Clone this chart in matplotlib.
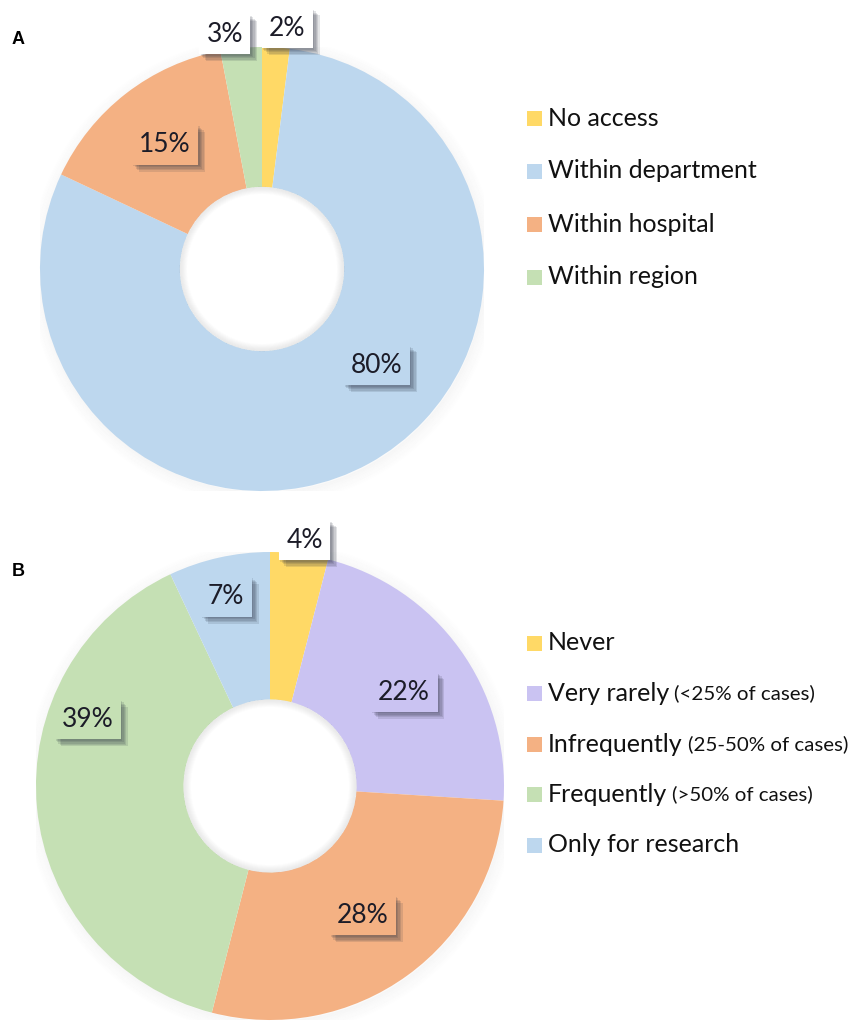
import matplotlib
matplotlib.use("Agg")
import matplotlib.pyplot as plt
import matplotlib.patheffects as pe
from matplotlib.patches import Rectangle, Wedge
import numpy as np

plt.rcParams['font.family'] = ['Lato', 'DejaVu Sans']

# 数据 A：影像数据访问范围
labels_a = ['No access', 'Within department', 'Within hospital', 'Within region']
values_a = [2, 80, 15, 3]
colors_a = ['#FFD966', '#BDD7EE', '#F4B183', '#C5E0B4']

# 数据 B：使用频率
labels_b = ['Never', 'Very rarely', 'Infrequently', 'Frequently', 'Only for research']
notes_b = ['', '(<25% of cases)', '(25-50% of cases)', '(>50% of cases)', '']
values_b = [4, 22, 28, 39, 7]
colors_b = ['#FFD966', '#CAC3F2', '#F4B183', '#C5E0B4', '#BDD7EE']

# 标签位置 (半径, 角度) 以及是否放在外侧
lab_pos_a = [(1.09, 84), (0.675, -40), (0.71, 128), (1.07, 99)]
lab_out_a = [True, False, False, True]
lab_pos_b = [(1.06, 82), (0.70, 35), (0.68, -54.5), (0.83, 160), (0.83, 103)]
lab_out_b = [True, False, False, False, False]

W, H = 857, 1024
HOLE = 0.37
TXT = '#1C1C28'


def px_axes(fig, cx, cy, r):
    # 用像素坐标（左上原点）放置坐标轴
    return fig.add_axes([(cx - r) / W, (H - cy - r) / H, 2 * r / W, 2 * r / H])


def draw_donut(ax, values, colors, lab_pos, lab_out):
    # 外侧柔和阴影
    for i in range(10):
        ax.add_patch(Wedge((0.006, -0.01), 1.0 + 0.006 * i, 0, 360, width=0.012,
                           facecolor='#888888', alpha=0.035 * (1 - i / 10), lw=0, zorder=0))
    wedges, _ = ax.pie(values, colors=colors, startangle=90, counterclock=False,
                       radius=1.0, wedgeprops=dict(width=1 - HOLE, linewidth=0))
    ax.set_xlim(-1, 1)
    ax.set_ylim(-1, 1)
    # 内孔阴影
    for i in range(8):
        ax.add_patch(Wedge((0, 0), HOLE, 0, 360, width=0.004 * (i + 1),
                           facecolor='#999999', alpha=0.025, lw=0, zorder=3))
    shadow = [pe.SimplePatchShadow(offset=(k, -k), shadow_rgbFace='#2a3040', alpha=0.13)
              for k in (1, 2, 3, 4, 5)]
    for v, c, (r, ang), out in zip(values, colors, lab_pos, lab_out):
        x = r * np.cos(np.radians(ang))
        y = r * np.sin(np.radians(ang))
        fc = 'white' if out else c
        t = ax.text(x, y, f'{v}%', ha='center', va='center', fontsize=19, color=TXT,
                    zorder=5, clip_on=False,
                    bbox=dict(boxstyle='square,pad=0.28', facecolor=fc, edgecolor='none'))
        t.get_bbox_patch().set_path_effects(shadow + [pe.Normal()])
    ax.axis('off')


fig = plt.figure(figsize=(W / 100, H / 100), dpi=100)

ax_a = px_axes(fig, 262, 269, 222)
draw_donut(ax_a, values_a, colors_a, lab_pos_a, lab_out_a)

ax_b = px_axes(fig, 270, 786, 234)
draw_donut(ax_b, values_b, colors_b, lab_pos_b, lab_out_b)

fig.text(18 / W, 1 - 40 / H, 'A', fontsize=13, fontweight='bold', ha='center', va='center',
         family=['Liberation Sans', 'DejaVu Sans'])
fig.text(18 / W, 1 - 572 / H, 'B', fontsize=13, fontweight='bold', ha='center', va='center',
         family=['Liberation Sans', 'DejaVu Sans'])

LEG_FS = 18
renderer = fig.canvas.get_renderer()


def draw_legend(labels, colors, y0, step, notes=None):
    for i, (lab, c) in enumerate(zip(labels, colors)):
        yc = y0 + i * step
        fig.patches.append(Rectangle((527 / W, 1 - (yc + 7.5) / H), 15 / W, 15 / H,
                                     facecolor=c, edgecolor='none', transform=fig.transFigure))
        t = fig.text(548 / W, 1 - yc / H, lab, fontsize=LEG_FS, color='#111111',
                     ha='left', va='center')
        if notes and notes[i]:
            bb = t.get_window_extent(renderer)
            fig.text((bb.x1 + 5) / W, 1 - yc / H, notes[i], fontsize=LEG_FS * 0.82,
                     color='#111111', ha='left', va='center')


draw_legend(labels_a, colors_a, 118, 53)
draw_legend(labels_b, colors_b, 643, 50.5, notes_b)

fig.savefig('out.png', dpi=100, facecolor='white')
